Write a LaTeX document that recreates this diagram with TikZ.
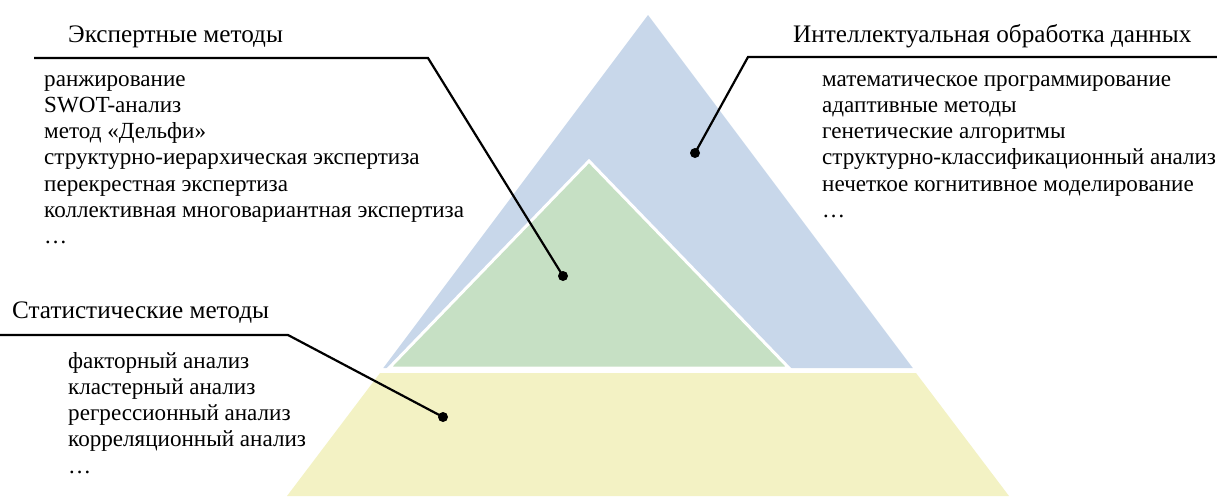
\documentclass[tikz,border=0pt]{standalone}
\usepackage{fontspec}
\setmainfont{Liberation Serif}
\definecolor{pblue}{RGB}{200,215,234}
\definecolor{pgreen}{RGB}{198,224,196}
\definecolor{pyellow}{RGB}{243,242,196}
\begin{document}
\begin{tikzpicture}[x=1pt,y=-1pt,
  leader/.style={line width=2.2pt,draw=black,line join=miter},
  dotnode/.style={circle,fill=black,inner sep=0pt,minimum size=10pt},
  titletext/.style={anchor=base west,inner sep=0pt,font=\fontsize{25.2}{30}\selectfont},
  listtext/.style={anchor=base west,inner sep=0pt,font=\fontsize{23.1}{26.3}\selectfont}]
\useasboundingbox (0,0) rectangle (1217,496);
% pyramid
\fill[pblue] (648,15) -- (383.25,368) -- (912.75,368) -- cycle;
\fill[pyellow] (380,373) -- (916,373) -- (1009,496) -- (287,496) -- cycle;
\filldraw[fill=pgreen,draw=white,line width=3pt,line join=miter] (589,161) -- (389,368) -- (789,368) -- cycle;
% titles
\node[titletext] (t1) at (68,42) {Экспертные методы};
\node[titletext] (t2) at (793,42) {Интеллектуальная обработка данных};
\node[titletext] (t3) at (12,318) {Статистические методы};
% lists
\node[listtext] (l1) at (44,86) {\begin{tabular}[t]{@{}l@{}}ранжирование\\ SWOT-анализ\\ метод «Дельфи»\\ структурно-иерархическая экспертиза\\ перекрестная экспертиза\\ коллективная многовариантная экспертиза\\ \dots\end{tabular}};
\node[listtext] (l2) at (822,86) {\begin{tabular}[t]{@{}l@{}}математическое программирование\\ адаптивные методы\\ генетические алгоритмы\\ структурно-классификационный анализ\\ нечеткое когнитивное моделирование\\ \dots\end{tabular}};
\node[listtext] (l3) at (68,368) {\begin{tabular}[t]{@{}l@{}}факторный анализ\\ кластерный анализ\\ регрессионный анализ\\ корреляционный анализ\\ \dots\end{tabular}};
% leaders
\coordinate (e1) at (34,58);
\coordinate (e2) at (428,58);
\node[dotnode] (ed) at (563,276) {};
\coordinate (i1) at (1217,57);
\coordinate (i2) at (748,57);
\node[dotnode] (id) at (695,153) {};
\coordinate (s1) at (0,335);
\coordinate (s2) at (288,335);
\node[dotnode] (sd) at (443,417) {};
\draw[leader] (e1) -- (e2) -- (ed.center);
\draw[leader] (i1) -- (i2) -- (id.center);
\draw[leader] (s1) -- (s2) -- (sd.center);
\end{tikzpicture}
\end{document}
